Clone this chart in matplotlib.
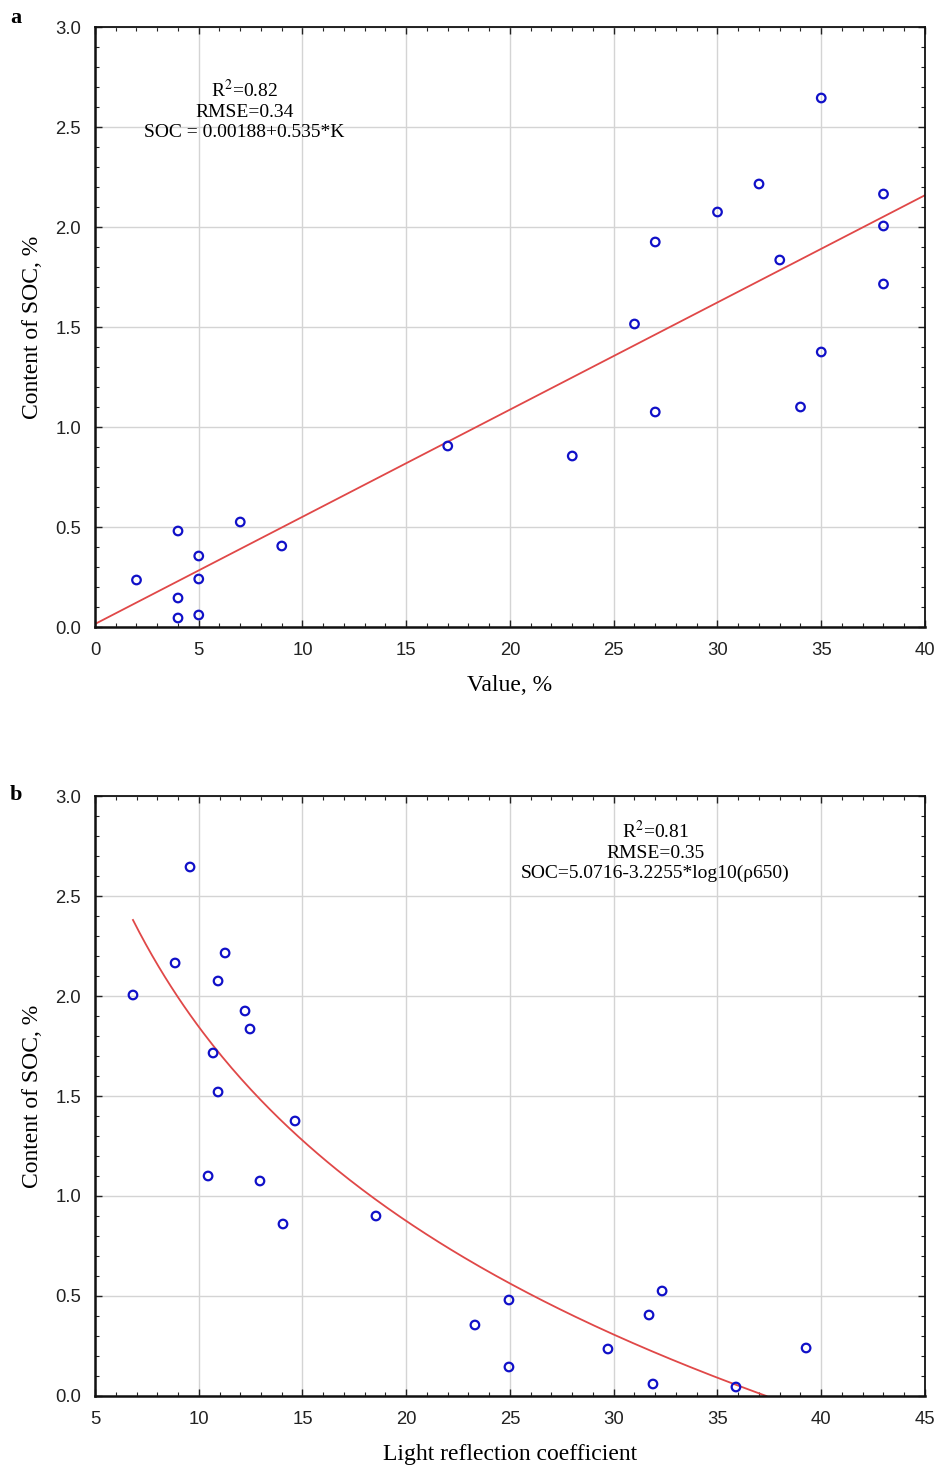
import numpy as np
import matplotlib
matplotlib.use("Agg")
import matplotlib.pyplot as plt
from matplotlib.ticker import MultipleLocator, FormatStrFormatter

# Panel a data: value (%) vs SOC (%)
value_a = [2, 4, 4, 4, 5, 5, 5, 7, 9, 17, 23, 26, 27, 27, 30, 32, 33, 34, 35, 35, 38, 38, 38]
soc_a = [0.235, 0.48, 0.145, 0.045, 0.355, 0.24, 0.06, 0.525, 0.405, 0.905, 0.855,
         1.515, 1.925, 1.075, 2.075, 2.215, 1.835, 1.10, 2.645, 1.375, 2.165, 2.005, 1.715]

# Panel b data: light reflection coefficient vs SOC (%)
refl_b = [6.83, 8.86, 9.58, 11.27, 10.93, 12.23, 12.47, 10.69, 10.93, 14.64, 10.45,
          12.95, 14.06, 18.54, 24.95, 23.31, 24.95, 29.72, 32.33, 31.70, 31.89, 35.89, 39.27]
soc_b = [2.005, 2.165, 2.645, 2.215, 2.075, 1.925, 1.835, 1.715, 1.52, 1.375, 1.10,
         1.075, 0.86, 0.90, 0.48, 0.355, 0.145, 0.235, 0.525, 0.405, 0.06, 0.045, 0.24]

# Regression lines as drawn in the figure
a_intercept, a_slope = 0.015, 0.0536
b_const, b_coef = 5.0716, 3.2255

PT_BLUE = "#1010c8"
LINE_RED = "#e04848"
SERIF = ["Liberation Serif", "DejaVu Serif"]
SANS = ["Liberation Sans", "DejaVu Sans"]

fig = plt.figure(figsize=(9.37, 14.65), dpi=100)
W, H = 937, 1465

def make_ax(top_px, bottom_px):
    left, right = 95, 925
    return fig.add_axes([left / W, 1 - bottom_px / H, (right - left) / W, (bottom_px - top_px) / H])

def style(ax, xlim, ylim, xmaj, xmin_):
    ax.set_xlim(*xlim)
    ax.set_ylim(*ylim)
    ax.xaxis.set_major_locator(MultipleLocator(xmaj))
    ax.xaxis.set_minor_locator(MultipleLocator(xmin_))
    ax.yaxis.set_major_locator(MultipleLocator(0.5))
    ax.yaxis.set_minor_locator(MultipleLocator(0.1))
    ax.yaxis.set_major_formatter(FormatStrFormatter("%.1f"))
    ax.grid(True, which="major", color="#d4d4d4", linewidth=1.0)
    ax.set_axisbelow(True)
    ax.tick_params(which="both", direction="in", top=True, right=True, colors="#222222",
                   labelsize=13.3)
    ax.tick_params(axis="x", which="major", pad=10.5)
    ax.tick_params(axis="y", which="major", pad=10)
    ax.tick_params(which="major", length=5, width=1)
    ax.tick_params(which="minor", length=3, width=0.8)
    for lbl in ax.get_xticklabels() + ax.get_yticklabels():
        lbl.set_fontfamily(SANS)
    for side in ["left", "bottom"]:
        ax.spines[side].set_linewidth(1.8)
    for side in ["top", "right"]:
        ax.spines[side].set_linewidth(1.3)
    for s in ax.spines.values():
        s.set_color("#111111")

# ---- Panel a ----
ax1 = make_ax(27, 627)
style(ax1, (0, 40), (0, 3.0), 5, 1)
xa = np.linspace(0, 40, 100)
ax1.plot(xa, a_intercept + a_slope * xa, color=LINE_RED, lw=1.3, zorder=2)
ax1.scatter(value_a, soc_a, s=38, facecolors="none", edgecolors=PT_BLUE, linewidths=1.6, zorder=3)
ax1.set_xlabel("Value, %", fontfamily=SERIF, fontsize=17, labelpad=12)
ax1.set_ylabel("Content of SOC, %", fontfamily=SERIF, fontsize=17, labelpad=9)
ax1.text(7.2, 2.585, "R$^2$=0.82\nRMSE=0.34\nSOC = 0.00188+0.535*K", fontfamily=SERIF,
         fontsize=14, ha="center", va="center", linespacing=1.2, math_fontfamily="stix")
fig.text(10 / W, 1 - 18 / H, "a", fontfamily=SERIF, fontsize=16, fontweight="bold", va="center")

# ---- Panel b ----
ax2 = make_ax(796, 1396)
style(ax2, (5, 45), (0, 3.0), 5, 1)
xb = np.linspace(min(refl_b), 10 ** (b_const / b_coef), 200)
ax2.plot(xb, b_const - b_coef * np.log10(xb), color=LINE_RED, lw=1.3, zorder=2)
ax2.scatter(refl_b, soc_b, s=38, facecolors="none", edgecolors=PT_BLUE, linewidths=1.6, zorder=3)
ax2.set_xlabel("Light reflection coefficient", fontfamily=SERIF, fontsize=17, labelpad=12)
ax2.set_ylabel("Content of SOC, %", fontfamily=SERIF, fontsize=17, labelpad=9)
ax2.text(32.0, 2.725, "R$^2$=0.81\nRMSE=0.35\nSOC=5.0716-3.2255*log10(ρ650)", fontfamily=SERIF,
         fontsize=14, ha="center", va="center", linespacing=1.2, math_fontfamily="stix")
fig.text(10 / W, 1 - 795 / H, "b", fontfamily=SERIF, fontsize=16, fontweight="bold", va="center")

fig.savefig("out.png", dpi=100, facecolor="white")
